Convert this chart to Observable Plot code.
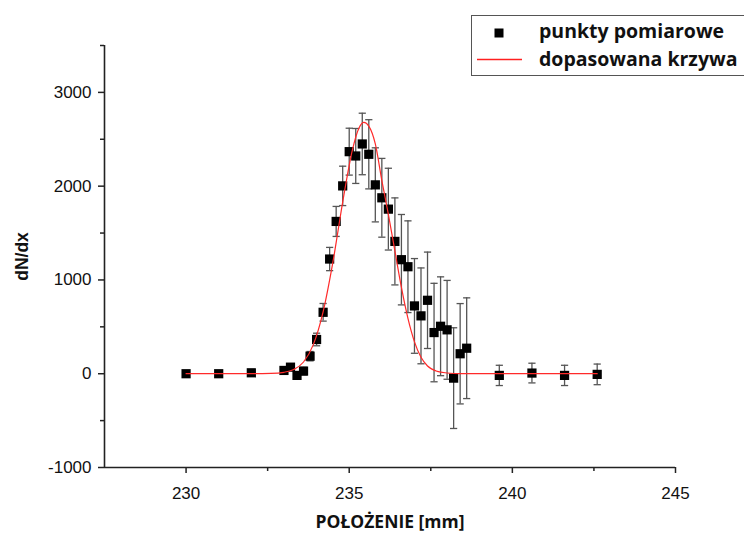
<!DOCTYPE html>
<html>
<head>
<meta charset="utf-8">
<script src="https://cdn.jsdelivr.net/npm/d3@7"></script>
<script src="https://cdn.jsdelivr.net/npm/@observablehq/plot@0.6"></script>
<style>
  body { margin: 0; background: #fff; }
  #wrap { position: relative; width: 744px; height: 541px; overflow: hidden; background: #fff; }
  #legend { position: absolute; left: 0; top: 0; }
</style>
</head>
<body>
<div id="wrap"></div>
<script>
// measured points
const posX = [230, 231, 232, 233.0, 233.2, 233.4, 233.6, 233.8, 234.0, 234.2, 234.4, 234.6, 234.8, 235.0, 235.2, 235.4, 235.6, 235.8, 236.0, 236.2, 236.4, 236.6, 236.8, 237.0, 237.2, 237.4, 237.6, 237.8, 238.0, 238.2, 238.4, 238.6, 239.6, 240.6, 241.6, 242.6];
const dNdx = [0, 0, 10, 35, 70, -18, 28, 187, 365, 655, 1223, 1624, 2003, 2368, 2322, 2450, 2340, 2014, 1876, 1755, 1411, 1216, 1141, 723, 617, 783, 439, 506, 468, -47, 213, 272, -18, 7, -18, -7];
const errs = [0, 0, 0, 25, 30, 35, 40, 50, 67, 94, 124, 160, 210, 250, 293, 328, 369, 395, 420, 436, 464, 482, 489, 505, 511, 514, 525, 527, 527, 537, 535, 537, 108, 105, 108, 110];

// fitted curve
const fitX = [230, 231, 232, 232.6, 233.0, 233.3, 233.6, 233.9, 234.2, 234.5, 234.8, 235.1, 235.3, 235.45, 235.6, 235.8, 236.0, 236.2, 236.4, 236.6, 236.8, 237.0, 237.2, 237.4, 237.7, 238.0, 238.4, 239, 240, 241, 242.6];
const fitY = [0, 0, 0, 3, 15, 45, 125, 310, 660, 1190, 1830, 2390, 2620, 2680, 2640, 2450, 2060, 1700, 1310, 920, 590, 340, 175, 82, 25, 8, 0, 0, 0, 0, 0];

// axes
const xDomain = [227.5, 245];
const yDomain = [-1000, 3500];
const xTicks = [230, 235, 240, 245];
const xMinor = [232.5, 237.5, 242.5];
const yTicks = [-1000, 0, 1000, 2000, 3000];
const yMinor = [-500, 500, 1500, 2500, 3500];
const xLabel = "POŁOŻENIE [mm]";
const yLabel = "dN/dx";
const legendLabels = ["punkty pomiarowe", "dopasowana krzywa"];

const points = posX.map((x, i) => ({x, y: dNdx[i], e: errs[i]}));
const fit = fitX.map((x, i) => ({x, y: fitY[i]}));

const capSymbol = {
  draw(context, size) {
    const r = Math.sqrt(size / Math.PI);
    context.moveTo(-r, 0);
    context.lineTo(r, 0);
  }
};

const axisColor = "#222";
const plain = d => String(d);
const tickFont = "Liberation Sans, Arial, sans-serif";
const chart = Plot.plot({
  width: 744,
  height: 541,
  marginLeft: 104,
  marginRight: 69,
  marginTop: 45,
  marginBottom: 74,
  style: { fontFamily: tickFont, fontSize: "17px", color: "#111", background: "#fff" },
  x: { domain: xDomain },
  y: { domain: yDomain },
  marks: [
    Plot.axisY({ ticks: yTicks, tickSize: 6, tickPadding: 7, tickFormat: plain, label: null, stroke: axisColor, strokeWidth: 1.5, fontSize: 17, fontFamily: tickFont, fill: "#111" }),
    Plot.axisY({ ticks: yMinor, tickSize: 4, tickFormat: () => "", label: null, stroke: axisColor, strokeWidth: 1.5 }),
    Plot.axisX({ ticks: xTicks, tickSize: 6, tickPadding: 13, tickFormat: plain, label: null, stroke: axisColor, strokeWidth: 1.5, fontSize: 17, fontFamily: tickFont, fill: "#111" }),
    Plot.axisX({ ticks: xMinor, tickSize: 4, tickFormat: () => "", label: null, stroke: axisColor, strokeWidth: 1.5 }),
    Plot.ruleX([xDomain[0]], { stroke: axisColor, strokeWidth: 1.6 }),
    Plot.ruleY([yDomain[0]], { stroke: axisColor, strokeWidth: 1.6 }),
    Plot.ruleX(points, { x: "x", y1: d => d.y - d.e, y2: d => d.y + d.e, stroke: "#555", strokeWidth: 1.3 }),
    Plot.dot(points, { x: "x", y: d => d.y + d.e, symbol: capSymbol, r: 3.6, stroke: "#555", strokeWidth: 1.3, fill: "none" }),
    Plot.dot(points, { x: "x", y: d => d.y - d.e, symbol: capSymbol, r: 3.6, stroke: "#555", strokeWidth: 1.3, fill: "none" }),
    Plot.dot(points, { x: "x", y: "y", symbol: "square", r: 5.2, fill: "#000", stroke: "none" }),
    Plot.line(fit, { x: "x", y: "y", stroke: "#ff2a2a", strokeWidth: 1.2, curve: "monotone-x" }),
    Plot.text([xLabel], { frameAnchor: "bottom", dy: 55, lineAnchor: "middle", textAnchor: "middle", fontFamily: "Open Sans", fontWeight: "bold", fontSize: 17.5, fill: "#111" }),
    Plot.text([yLabel], { frameAnchor: "left", dx: -82, rotate: -90, textAnchor: "middle", lineAnchor: "middle", fontFamily: tickFont, fontWeight: "bold", fontSize: 17.5, fill: "#111" })
  ]
});

const wrap = document.getElementById("wrap");
wrap.appendChild(chart);

// legend overlay
const ns = "http://www.w3.org/2000/svg";
const lg = document.createElementNS(ns, "svg");
lg.setAttribute("id", "legend");
lg.setAttribute("width", 744);
lg.setAttribute("height", 90);
lg.innerHTML = `
  <rect x="471.5" y="15.5" width="290" height="60" fill="#fff" stroke="#555" stroke-width="1"/>
  <rect x="494.5" y="28.5" width="9" height="9" fill="#000"/>
  <line x1="477" y1="59.5" x2="522" y2="59.5" stroke="#ff2020" stroke-width="1.4"/>
  <text x="539" y="37.5" font-family="Open Sans" font-weight="bold" font-size="19.5" fill="#111">${legendLabels[0]}</text>
  <text x="539" y="66" font-family="Open Sans" font-weight="bold" font-size="19.5" fill="#111">${legendLabels[1]}</text>
`;
wrap.appendChild(lg);
</script>
</body>
</html>
